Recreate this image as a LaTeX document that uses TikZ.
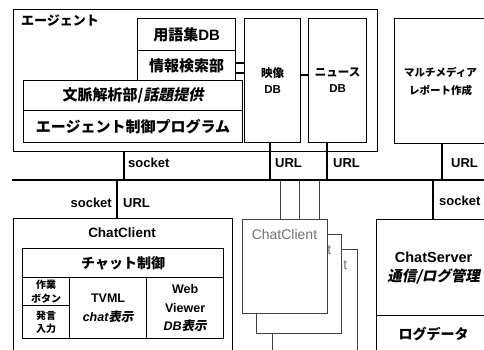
\documentclass[tikz,border=0pt]{standalone}
\usepackage{fontspec}
\setmainfont{Liberation Sans}
\newfontfamily\jp{Noto Sans CJK JP}
\newfontfamily\jpi[FakeSlant=0.2]{Noto Sans CJK JP}
\begin{document}
\begin{tikzpicture}[x=1pt,y=-1pt,
  bx/.style={draw, line width=1.2pt, fill=white, anchor=north west, inner sep=0pt, align=center},
  ln/.style={line width=1.2pt},
  lbl/.style={inner sep=0pt, font=\bfseries\fontsize{13}{15}\selectfont},
  f15/.style={font=\bfseries\fontsize{15}{17}\selectfont},
  f14/.style={font=\bfseries\fontsize{14}{19}\selectfont},
  f11/.style={font=\bfseries\fontsize{11.5}{16}\selectfont},
  f10/.style={font=\bfseries\fontsize{10}{13.5}\selectfont},
  f12/.style={font=\bfseries\fontsize{12.5}{18.5}\selectfont},
  ghost/.style={draw=black!75, line width=0.7pt, fill=white, anchor=north west, inner sep=0pt},
  ghostln/.style={draw=black!75, line width=0.7pt},
  ghosttxt/.style={text=black!55, inner sep=0pt, font=\fontsize{14}{16}\selectfont}
]
\useasboundingbox (0,0) rectangle (484,350);
\fill[white] (0,0) rectangle (484,350);

% bus
\coordinate (busL) at (12,180);
\coordinate (busR) at (490,180);
\draw[ln] (busL) -- (busR);

% agent
\node[bx, minimum width=364pt, minimum height=142pt] (agent) at (13,9) {};
\node[lbl, anchor=west] (agentlbl) at (21,21) {\jp エージェント};
\node[bx, f15, minimum width=98pt, minimum height=32pt] (yogo) at (137,18) {{\jp 用語集}DB};
\node[bx, f15, minimum width=98pt, minimum height=30pt] (joho) at (137,50) {\jp 情報検索部};
\node[bx, f15, minimum width=219pt, minimum height=30pt] (bunm) at (23,80) {{\jp 文脈解析部/}{\jpi 話題提供}};
\node[bx, f15, minimum width=219pt, minimum height=32pt] (seig) at (23,110) {\jp エージェント制御プログラム};
\node[bx, f11, minimum width=56pt, minimum height=124pt] (eizo) at (244,18) {{\jp 映像}\\DB};
\node[bx, f11, minimum width=58pt, minimum height=124pt] (news) at (308,18) {{\jp ニュース}\\DB};
\draw[ln] (joho.east |- 0,63) -- (eizo.west |- 0,63);
\draw[ln] (joho.east |- 0,73) -- (eizo.west |- 0,73);
\draw[ln] (eizo.east |- 0,75) -- (news.west |- 0,75);

% multimedia
\node[bx, font=\bfseries\fontsize{10.5}{18}\selectfont, minimum width=92pt, minimum height=125pt] (mm) at (394,18) {\jp マルチメディア\\\jp レポート作成};

% upper connectors
\coordinate (a1) at (124,180);
\coordinate (u1) at (270,180);
\coordinate (u2) at (327,180);
\coordinate (u3) at (442,180);
\draw[ln] (agent.south -| a1) -- (a1);
\draw[ln] (eizo.south -| u1) -- (u1);
\draw[ln] (news.south -| u2) -- (u2);
\draw[ln] (mm.south -| u3) -- (u3);
\node[lbl, anchor=west] (sock1) at (128,163) {socket};
\node[lbl, anchor=west] (url1) at (275,163) {URL};
\node[lbl, anchor=west] (url2) at (333,163) {URL};
\node[lbl, anchor=west] (url3) at (451,163) {URL};

% chat client
\node[bx, minimum width=219pt, minimum height=131.5pt] (cc) at (13,218) {};
\coordinate (c1) at (117,180);
\draw[ln] (c1) -- (c1 |- cc.north);
\node[lbl, anchor=east] (sock2) at (112,203) {socket};
\node[lbl, anchor=west] (url4) at (123,203) {URL};
\node[lbl, font=\bfseries\fontsize{13.5}{15}\selectfont] (cctitle) at (122,233) {ChatClient};
\node[bx, f14, minimum width=201pt, minimum height=29pt] (ctrl) at (22,248) {\jp チャット制御};
\node[bx, f10, minimum width=47pt, minimum height=28pt] (sagyo) at (22,277) {\jp 作業\\\jp ボタン};
\node[bx, f10, minimum width=47pt, minimum height=33pt] (hats) at (22,305) {\jp 発言\\\jp 入力};
\node[bx, f12, minimum width=77pt, minimum height=61pt] (tvml) at (69,277) {TVML\\{\itshape chat}{\jpi 表示}};
\node[bx, f12, minimum width=77pt, minimum height=61pt] (web) at (146,277) {Web\\Viewer\\{\itshape DB}{\jpi 表示}};

% ghost chat clients
\node[ghost, minimum width=85pt, minimum height=111pt] (g3) at (272,249) {};
\node[ghosttxt] (g3t) at (314.5,264) {ChatClient};
\node[ghost, minimum width=85pt, minimum height=99pt] (g2) at (256,234) {};
\node[ghosttxt] (g2t) at (298.5,249) {ChatClient};
\node[ghost, minimum width=85pt, minimum height=94pt] (g1) at (242,219) {};
\node[ghosttxt] (g1t) at (284.5,234) {ChatClient};
\coordinate (k1) at (280,180);
\coordinate (k2) at (299,180);
\coordinate (k3) at (319,180);
\draw[ghostln] (k1) -- (k1 |- g1.north);
\draw[ghostln] (k2) -- (k2 |- g1.north);
\draw[ghostln] (k3) -- (k3 |- g1.north);

% chat server
\node[bx, font=\bfseries\fontsize{14.5}{19}\selectfont, minimum width=114pt, minimum height=96pt] (srv) at (376,219) {ChatServer\\{\jpi 通信/ログ管理}};
\node[bx, font=\bfseries\fontsize{14}{16}\selectfont, minimum width=114pt, minimum height=36pt] (logd) at (376,315) {\jp ログデータ};
\coordinate (s1) at (433,180);
\draw[ln] (s1) -- (s1 |- srv.north);
\node[lbl, anchor=west] (sock3) at (439,201) {socket};
\end{tikzpicture}
\end{document}
